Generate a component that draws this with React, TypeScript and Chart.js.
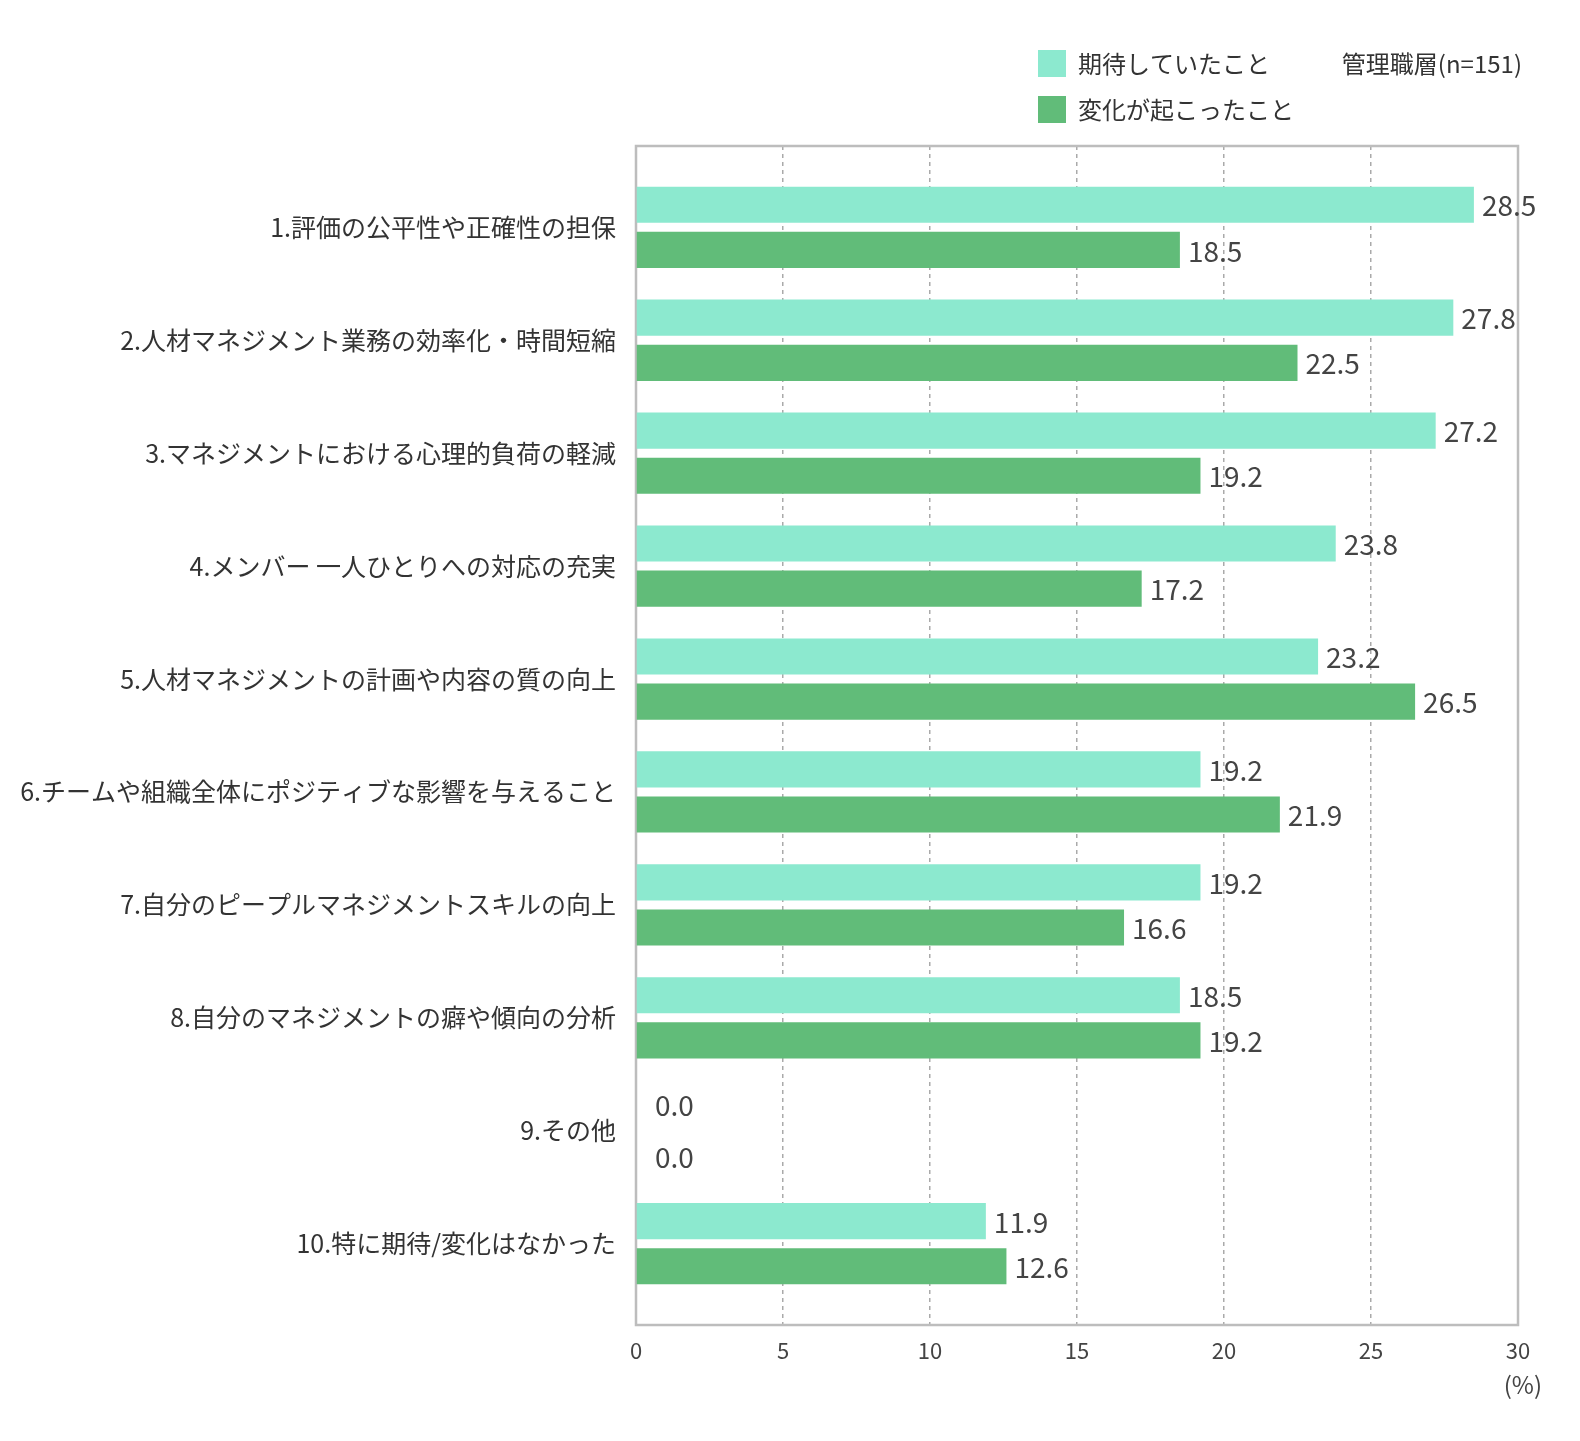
import React, { useEffect, useRef } from "react";
import { Chart, registerables } from "chart.js";

Chart.register(...registerables);

const categories: string[] = [
  "1.評価の公平性や正確性の担保",
  "2.人材マネジメント業務の効率化・時間短縮",
  "3.マネジメントにおける心理的負荷の軽減",
  "4.メンバー 一人ひとりへの対応の充実",
  "5.人材マネジメントの計画や内容の質の向上",
  "6.チームや組織全体にポジティブな影響を与えること",
  "7.自分のピープルマネジメントスキルの向上",
  "8.自分のマネジメントの癖や傾向の分析",
  "9.その他",
  "10.特に期待/変化はなかった",
];
const expected: number[] = [28.5, 27.8, 27.2, 23.8, 23.2, 19.2, 19.2, 18.5, 0.0, 11.9];
const changed: number[] = [18.5, 22.5, 19.2, 17.2, 26.5, 21.9, 16.6, 19.2, 0.0, 12.6];
const seriesNames: string[] = ["期待していたこと", "変化が起こったこと"];
const sampleNote = "管理職層(n=151)";
const unitLabel = "(%)";
const xTicks: number[] = [0, 5, 10, 15, 20, 25, 30];

const COLORS = ["#8CE9CF", "#61BC79"];
const FONT = "'Noto Sans CJK JP', 'Noto Sans', sans-serif";

export default function App() {
  const ref = useRef<HTMLCanvasElement | null>(null);

  useEffect(() => {
    document.body.style.margin = "0";
    document.body.style.overflow = "hidden";
    document.documentElement.style.overflow = "hidden";
    const canvas = ref.current;
    if (!canvas) return;

    const overlay = {
      id: "overlay",
      beforeDatasetsDraw(chart: any) {
        const { ctx, chartArea } = chart;
        ctx.save();
        ctx.strokeStyle = "#bdbdbd";
        ctx.lineWidth = 2.5;
        ctx.strokeRect(chartArea.left, chartArea.top, chartArea.right - chartArea.left, chartArea.bottom - chartArea.top);
        ctx.restore();
      },
      afterDatasetsDraw(chart: any) {
        const { ctx, chartArea } = chart;
        ctx.save();
        ctx.font = `28px ${FONT}`;
        ctx.fillStyle = "#444";
        ctx.textBaseline = "middle";
        ctx.textAlign = "left";
        chart.data.datasets.forEach((ds: any, di: number) => {
          const meta = chart.getDatasetMeta(di);
          meta.data.forEach((el: any, i: number) => {
            const v = ds.data[i].x;
            const zero = v === 0;
            const x = Math.max(el.x + 8, chartArea.left + 19);
            const y = zero ? el.y + (di === 0 ? -3 : 4) : el.y + 1;
            ctx.fillText(v.toFixed(1), x, y);
          });
        });
        ctx.restore();
      },
      afterDraw(chart: any) {
        const { ctx, chartArea } = chart;
        ctx.save();
        ctx.font = `24px ${FONT}`;
        ctx.textBaseline = "middle";
        ctx.fillStyle = COLORS[0];
        ctx.fillRect(1038, 50, 28, 27);
        ctx.fillStyle = COLORS[1];
        ctx.fillRect(1038, 96, 28, 27);
        ctx.fillStyle = "#333";
        ctx.textAlign = "left";
        ctx.fillText(seriesNames[0], 1078, 64);
        ctx.fillText(seriesNames[1], 1078, 110);
        ctx.textAlign = "right";
        ctx.fillText(sampleNote, 1522, 64);
        ctx.font = `24px ${FONT}`;
        ctx.fillStyle = "#444";
        ctx.textAlign = "right";
        ctx.fillText(unitLabel, chartArea.right + 24, 1385);
        ctx.restore();
      },
    };

    const chart = new Chart(canvas, {
      type: "bar",
      data: {
        datasets: [
          {
            label: seriesNames[0],
            data: expected.map((v, i) => ({ x: v, y: i })),
            backgroundColor: COLORS[0],
            categoryPercentage: 0.8,
            barPercentage: 0.8,
          },
          {
            label: seriesNames[1],
            data: changed.map((v, i) => ({ x: v, y: i })),
            backgroundColor: COLORS[1],
            categoryPercentage: 0.8,
            barPercentage: 0.8,
          },
        ],
      },
      options: {
        indexAxis: "y",
        animation: false,
        responsive: false,
        devicePixelRatio: 1,
        layout: { padding: { top: 146, right: 62, left: 0, bottom: 0 } },
        plugins: {
          legend: { display: false },
          tooltip: { enabled: false },
        },
        scales: {
          x: {
            type: "linear",
            min: 0,
            max: 30,
            afterBuildTicks: (axis: any) => {
              axis.ticks = xTicks.map((v) => ({ value: v }));
            },
            afterFit: (axis: any) => {
              axis.height = 116;
            },
            grid: {
              display: true,
              color: "#aaaaaa",
              lineWidth: 1.5,
              drawTicks: false,
            },
            border: { display: false, dash: [4, 4] },
            ticks: {
              color: "#444",
              font: { size: 22, family: FONT },
              padding: 12,
            },
          },
          y: {
            type: "linear",
            reverse: true,
            offset: false,
            min: -0.72,
            max: 9.72,
            afterBuildTicks: (axis: any) => {
              axis.ticks = categories.map((_, i) => ({ value: i }));
            },
            afterFit: (axis: any) => {
              axis.width = 636;
            },
            grid: { display: false, drawTicks: false, offset: false },
            border: { display: false },
            ticks: {
              color: "#333",
              font: { size: 25, family: FONT },
              padding: 20,
              callback: (value: any) => categories[Number(value)] ?? "",
            },
          },
        },
      },
      plugins: [overlay],
    } as any);

    return () => chart.destroy();
  }, []);

  return (
    <div style={{ width: 1580, height: 1441, background: "#fff", overflow: "hidden" }}>
      <canvas ref={ref} width={1580} height={1441} style={{ width: 1580, height: 1441, display: "block" }} />
    </div>
  );
}
